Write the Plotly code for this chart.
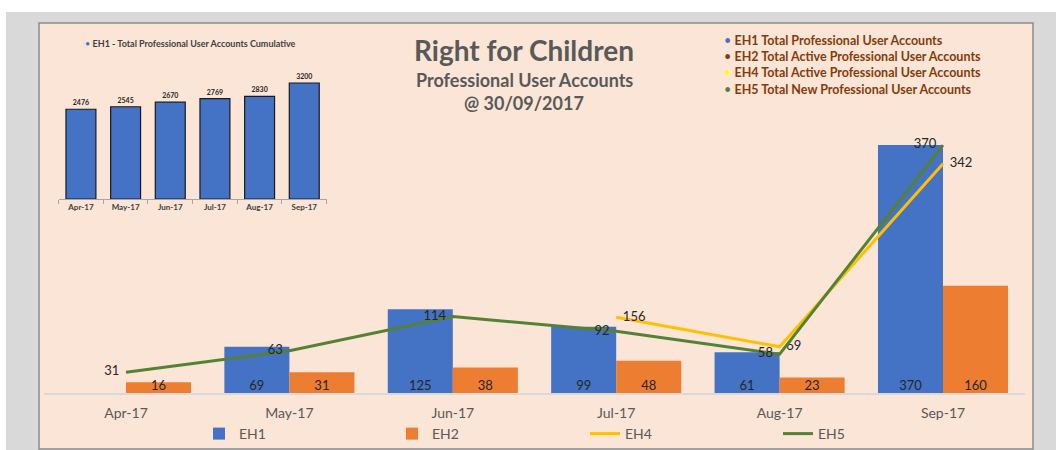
import plotly.graph_objects as go

# ---------------- data ----------------
months = ["Apr-17", "May-17", "Jun-17", "Jul-17", "Aug-17", "Sep-17"]
eh1 = [None, 69, 125, 99, 61, 370]
eh2 = [16, 31, 38, 48, 23, 160]
eh4 = [None, None, None, 113, 69, 342]          # plotted positions as drawn
eh4_labels = ["", "", "", "156", "69", "342"]    # labels as printed
eh5 = [31, 63, 114, 92, 58, 370]
cumulative = [2476, 2545, 2670, 2769, 2830, 3200]

C_EH1 = "#4472C4"
C_EH2 = "#ED7D31"
C_EH4 = "#FFC000"
C_EH5 = "#548235"
FONT = "Lato"
NB = "\u00a0"

W, H = 1056, 450
def px(x):
    return x / W
def py(y):
    return 1 - y / H

xs = list(range(len(months)))
bw = 0.398

fig = go.Figure()

# main bars
fig.add_trace(go.Bar(x=xs, y=eh1, name="EH1", marker_color=C_EH1, width=bw, offset=-bw,
                     marker_line_width=0, hoverinfo="skip"))
fig.add_trace(go.Bar(x=xs, y=eh2, name="EH2", marker_color=C_EH2, width=bw, offset=0,
                     marker_line_width=0, hoverinfo="skip"))
# lines
fig.add_trace(go.Scatter(x=xs, y=eh4, name="EH4", mode="lines+text",
                         text=[(NB * 2 + t) if t else "" for t in eh4_labels],
                         textposition="middle right", line=dict(color=C_EH4, width=3),
                         textfont=dict(size=13, color="#262626", family=FONT), connectgaps=False))
fig.add_trace(go.Scatter(x=xs, y=eh5, name="EH5", mode="lines+text",
                         text=[str(v) + NB * 2 for v in eh5],
                         textposition="middle left", line=dict(color=C_EH5, width=3),
                         textfont=dict(size=13, color="#262626", family=FONT)))
# bar labels at base
fig.add_trace(go.Scatter(x=[i - bw / 2 for i in xs], y=[0 if v is not None else None for v in eh1],
                         mode="text", text=[str(v) if v is not None else "" for v in eh1],
                         textposition="top center", showlegend=False,
                         textfont=dict(size=13, color="#262626", family=FONT)))
fig.add_trace(go.Scatter(x=[i + bw / 2 for i in xs], y=[0 for v in eh2],
                         mode="text", text=[str(v) for v in eh2],
                         textposition="top center", showlegend=False,
                         textfont=dict(size=13, color="#262626", family=FONT)))

# inset cumulative chart
fig.add_trace(go.Bar(x=months, y=cumulative, xaxis="x2", yaxis="y2", showlegend=False,
                     marker=dict(color=C_EH1, line=dict(color="#1a1a1a", width=1.2)),
                     text=[str(v) for v in cumulative], textposition="outside",
                     textfont=dict(size=7, color="#262626", family=FONT, weight="bold"),
                     cliponaxis=False, width=0.67))

shapes = [
    dict(type="rect", xref="paper", yref="paper", x0=0, x1=1, y0=py(12), y1=1,
         fillcolor="white", line_width=0, layer="below"),
    dict(type="rect", xref="paper", yref="paper", x0=0, x1=px(6), y0=0, y1=1,
         fillcolor="white", line_width=0, layer="below"),
    dict(type="rect", xref="paper", yref="paper", x0=px(39), x1=px(1033), y0=py(449), y1=py(23),
         fillcolor="#FBE5D6", line=dict(color="#8c8c8c", width=1.5), layer="below"),
]

def ann(text, x, y, size, color, xanchor="center"):
    return dict(text=text, x=px(x), y=py(y), xref="paper", yref="paper", xanchor=xanchor,
                yanchor="middle", showarrow=False, font=dict(size=size, color=color, family=FONT))

annotations = [
    ann("<b>Right for Children</b>", 524, 50, 28, "#595959"),
    ann("<b>Professional User Accounts</b>", 524, 80, 18, "#595959"),
    ann("<b>@ 30/09/2017</b>", 524, 103, 18, "#595959"),
    ann("<span style='color:#4472C4'>•</span> <b>EH1 - Total Professional User Accounts Cumulative</b>",
        83, 44, 9, "#404040", xanchor="left"),
]
legend_items = [
    ("#4472C4", "EH1 Total Professional User Accounts", 40),
    ("#843C0C", "EH2 Total Active Professional User Accounts", 56),
    ("#FFFF00", "EH4 Total Active Professional User Accounts", 72),
    ("#548235", "EH5 Total New Professional User Accounts", 89),
]
for col, txt, yy in legend_items:
    annotations.append(ann(f"<span style='color:{col}'>•</span> <b>{txt}</b>",
                           722, yy, 12.5, "#843C0C", xanchor="left"))

fig.update_layout(
    width=W, height=H, margin=dict(l=0, r=0, t=0, b=0, autoexpand=False),
    paper_bgcolor="#D9D9D9", plot_bgcolor="rgba(0,0,0,0)",
    barmode="overlay", showlegend=True,
    font=dict(family=FONT, color="#595959"),
    shapes=shapes, annotations=annotations,
    xaxis=dict(domain=[px(44.3), px(1024.7)], range=[-0.5, 5.5], tickmode="array",
               tickvals=xs, ticktext=months, showgrid=False, zeroline=False,
               showline=True, linecolor="#D9D9D9", linewidth=1.5, ticks="",
               ticklabelstandoff=6,
               tickfont=dict(size=14, color="#595959", family=FONT)),
    yaxis=dict(domain=[py(393), py(98.2)], range=[0, 440], visible=False, showgrid=False),
    xaxis2=dict(domain=[px(58.6), px(326.6)], anchor="y2", type="category", showgrid=False,
                showline=True, linecolor="#a6a6a6", linewidth=1, ticks="outside", ticklen=4,
                tickcolor="#a6a6a6", tickson="boundaries",
                tickfont=dict(size=8, color="#404040", family=FONT, weight="bold")),
    yaxis2=dict(domain=[py(199), py(68.5)], range=[0, 3600], anchor="x2", visible=False,
                showgrid=False),
    legend=dict(orientation="h", x=px(199), y=py(434), yanchor="middle", xanchor="left",
                entrywidth=148, bgcolor="rgba(0,0,0,0)",
                font=dict(size=14, color="#595959", family=FONT), traceorder="normal"),
)

fig.write_html("out.html")
